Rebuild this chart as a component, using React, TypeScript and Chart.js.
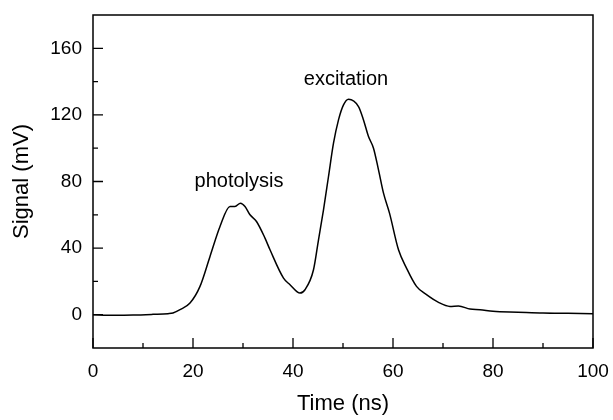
import React, { useEffect, useRef } from "react";
import { Chart, registerables } from "chart.js";

Chart.register(...registerables);

const timeNs = [0, 4, 8, 12, 15, 16, 17.4, 19.4, 21.4, 23.4, 25.4, 27.4, 28.4, 29.5, 30.4, 31.4, 32.7, 34.4, 35.4, 38.1, 39.4, 41.4, 42.4, 44.1, 45.1, 46.1, 47.1, 48.1, 49.1, 50.1, 51.1, 53.1, 54.1, 55.1, 56.1, 57.1, 58.1, 59.3, 61.1, 62.7, 64.7, 66.7, 69.1, 71.4, 73.1, 75.4, 77.4, 80, 85, 90, 95, 100];
const signalMv = [0, -0.3, -0.2, 0.2, 0.6, 1, 3, 7, 17, 35, 53, 65, 65, 67, 65, 60, 56, 46, 39, 22, 18, 13, 15, 27, 45, 63, 83, 103, 117, 126, 129.4, 125, 117, 107, 100, 87, 73, 61, 39, 28, 17, 12, 7.4, 5, 5.2, 3.4, 3, 2, 1.5, 1, 0.8, 0.6];

const xMajorTicks = [0, 20, 40, 60, 80, 100];
const xMinorTicks = [10, 30, 50, 70, 90];
const yMajorTicks = [0, 40, 80, 120, 160];
const yMinorTicks = [20, 60, 100, 140];

const annotations = [
  { text: "photolysis", x: 29.2, y: 80 },
  { text: "excitation", x: 50.6, y: 141.5 },
];

const FONT = "'Liberation Sans', Arial, sans-serif";

const frameAndTicks = {
  id: "frameAndTicks",
  afterDatasetsDraw(chart: any) {
    const { ctx, chartArea, scales } = chart;
    const xs = scales.x;
    const ys = scales.y;
    ctx.save();
    ctx.strokeStyle = "#000";
    ctx.lineWidth = 1.5;
    ctx.strokeRect(chartArea.left, chartArea.top, chartArea.right - chartArea.left, chartArea.bottom - chartArea.top);
    ctx.lineWidth = 1.3;
    ctx.beginPath();
    const drawX = (v: number, len: number) => {
      const px = xs.getPixelForValue(v);
      ctx.moveTo(px, chartArea.bottom);
      ctx.lineTo(px, chartArea.bottom - len);
    };
    const drawY = (v: number, len: number) => {
      const py = ys.getPixelForValue(v);
      ctx.moveTo(chartArea.left, py);
      ctx.lineTo(chartArea.left + len, py);
    };
    xMajorTicks.forEach((v) => drawX(v, 10));
    xMinorTicks.forEach((v) => drawX(v, 5));
    yMajorTicks.forEach((v) => drawY(v, 10));
    yMinorTicks.forEach((v) => drawY(v, 5));
    ctx.stroke();

    ctx.fillStyle = "#000";
    ctx.font = `20px ${FONT}`;
    ctx.textAlign = "center";
    ctx.textBaseline = "middle";
    annotations.forEach((a) => {
      ctx.fillText(a.text, xs.getPixelForValue(a.x), ys.getPixelForValue(a.y));
    });
    ctx.restore();
  },
};

const zeroPad = (scale: any) => {
  scale.paddingTop = 0;
  scale.paddingBottom = 0;
  scale.paddingLeft = 0;
  scale.paddingRight = 0;
};

export default function App() {
  const ref = useRef<HTMLCanvasElement | null>(null);

  useEffect(() => {
    document.body.style.margin = "0";
    if (!ref.current) return;
    const chart = new Chart(ref.current, {
      type: "line",
      data: {
        datasets: [
          {
            data: timeNs.map((t, i) => ({ x: t, y: signalMv[i] })),
            borderColor: "#000",
            borderWidth: 1.5,
            pointRadius: 0,
            cubicInterpolationMode: "monotone",
            fill: false,
          },
        ],
      },
      options: {
        animation: false,
        responsive: false,
        devicePixelRatio: 1,
        layout: { padding: { top: 15, right: 20, left: 0, bottom: 0 } },
        plugins: { legend: { display: false }, tooltip: { enabled: false } },
        scales: {
          x: {
            type: "linear",
            min: 0,
            max: 100,
            afterBuildTicks: (scale: any) => {
              scale.ticks = xMajorTicks.map((v) => ({ value: v }));
            },
            afterFit: (scale: any) => {
              scale.height = 72;
              zeroPad(scale);
            },
            grid: { display: false, drawTicks: false },
            border: { display: false },
            ticks: { color: "#000", font: { family: FONT, size: 19 }, padding: 12, maxRotation: 0 },
            title: {
              display: true,
              text: "Time (ns)",
              color: "#000",
              font: { family: FONT, size: 22 },
              padding: { top: 0, bottom: 3 },
            },
          },
          y: {
            type: "linear",
            min: -20,
            max: 180,
            afterBuildTicks: (scale: any) => {
              scale.ticks = yMajorTicks.map((v) => ({ value: v }));
            },
            afterFit: (scale: any) => {
              scale.width = 93;
              zeroPad(scale);
            },
            grid: { display: false, drawTicks: false },
            border: { display: false },
            ticks: { color: "#000", font: { family: FONT, size: 19 }, padding: 11 },
            title: {
              display: true,
              text: "Signal (mV)",
              color: "#000",
              font: { family: FONT, size: 22 },
              padding: { top: 9, bottom: 0 },
            },
          },
        },
      },
      plugins: [frameAndTicks],
    });
    return () => chart.destroy();
  }, []);

  return <canvas ref={ref} width={613} height={420} style={{ display: "block" }} />;
}
